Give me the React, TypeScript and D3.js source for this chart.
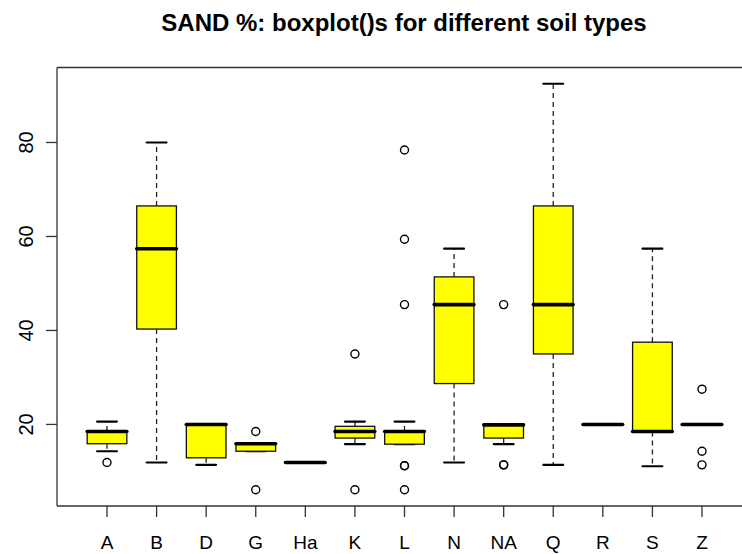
import React from "react";
import * as d3 from "d3";

const title = "SAND %: boxplot()s for different soil types";
const categories = ["A", "B", "D", "G", "Ha", "K", "L", "N", "NA", "Q", "R", "S", "Z"];
const whiskerLow = [14.3, 11.9, 11.4, 14.3, 11.9, 15.8, 15.8, 11.9, 15.8, 11.4, 20, 11.1, 20];
const q1 = [15.9, 40.3, 12.9, 14.3, 11.9, 17.1, 15.8, 28.7, 17.1, 35.0, 20, 18.5, 20];
const medians = [18.5, 57.4, 20, 15.9, 11.9, 18.5, 18.5, 45.5, 19.9, 45.5, 20, 18.5, 20];
const q3 = [18.6, 66.5, 20, 16.0, 11.9, 19.6, 18.6, 51.4, 20, 66.5, 20, 37.5, 20];
const whiskerHigh = [20.6, 80, 20, 16.0, 11.9, 20.6, 20.6, 57.4, 20, 92.5, 20, 57.4, 20];
const outliers: number[][] = [
  [11.9],
  [],
  [],
  [18.5, 6.1],
  [],
  [35.0, 6.1],
  [78.4, 59.4, 45.5, 11.2, 11.2, 6.1],
  [],
  [45.5, 11.4, 11.4],
  [],
  [],
  [],
  [27.5, 14.3, 11.4],
];
const yTicks = [20, 40, 60, 80];

const W = 742;
const H = 554;
const left = 57;
const right = 760;
const top = 67.5;
const bottom = 506;
const font = "'Liberation Sans', Arial, Helvetica, sans-serif";

export default function App() {
  const allVals = [...whiskerLow, ...whiskerHigh, ...outliers.flat()];
  const lo = d3.min(allVals) as number;
  const hi = d3.max(allVals) as number;
  const pad = (hi - lo) * 0.04;
  const y = d3.scaleLinear().domain([lo - pad, hi + pad]).range([bottom, top]);
  const x = d3.scalePoint<string>().domain(categories).range([107, 702]).padding(0);
  const step = x.step();
  const bw = step * 0.8;
  const sw = bw * 0.5;

  return (
    <svg
      width={W}
      height={H}
      style={{ position: "absolute", left: 0, top: 0, background: "#fff" }}
      fontFamily={font}
    >
      <rect x={0} y={0} width={W} height={H} fill="#fff" />
      <text x={404} y={31} textAnchor="middle" fontSize={24} fontWeight="bold" fill="#000">
        {title}
      </text>
      {categories.map((c, i) => {
        const cx = x(c) as number;
        return (
          <g key={c}>
            {q3[i] !== whiskerHigh[i] && (
              <line x1={cx} x2={cx} y1={y(q3[i])} y2={y(whiskerHigh[i])} stroke="#222" strokeWidth={1.3} strokeDasharray="5,4" />
            )}
            {q1[i] !== whiskerLow[i] && (
              <line x1={cx} x2={cx} y1={y(q1[i])} y2={y(whiskerLow[i])} stroke="#222" strokeWidth={1.3} strokeDasharray="5,4" />
            )}
            <line x1={cx - sw / 2} x2={cx + sw / 2} y1={y(whiskerHigh[i])} y2={y(whiskerHigh[i])} stroke="#000" strokeWidth={2.2} strokeLinecap="round" />
            <line x1={cx - sw / 2} x2={cx + sw / 2} y1={y(whiskerLow[i])} y2={y(whiskerLow[i])} stroke="#000" strokeWidth={2.2} strokeLinecap="round" />
            <rect
              x={cx - bw / 2}
              y={y(q3[i])}
              width={bw}
              height={Math.max(0, y(q1[i]) - y(q3[i]))}
              fill="#ffff00"
              stroke="#111"
              strokeWidth={1.3}
            />
            <line x1={cx - bw / 2} x2={cx + bw / 2} y1={y(medians[i])} y2={y(medians[i])} stroke="#000" strokeWidth={3.6} strokeLinecap="round" />
            {outliers[i].map((v, j) => (
              <circle key={j} cx={cx} cy={y(v)} r={4} fill="none" stroke="#000" strokeWidth={1.4} />
            ))}
          </g>
        );
      })}
      <line x1={left} x2={right} y1={top} y2={top} stroke="#333" strokeWidth={1.3} />
      <line x1={left} x2={right} y1={bottom} y2={bottom} stroke="#333" strokeWidth={1.3} />
      <line x1={left} x2={left} y1={top} y2={bottom} stroke="#333" strokeWidth={1.3} />
      {yTicks.map((t) => (
        <g key={t}>
          <line x1={left - 11} x2={left} y1={y(t)} y2={y(t)} stroke="#333" strokeWidth={1.3} />
          <text
            transform={`translate(${33},${y(t)}) rotate(-90)`}
            textAnchor="middle"
            fontSize={20}
            fill="#000"
          >
            {t}
          </text>
        </g>
      ))}
      {categories.map((c) => (
        <g key={c}>
          <line x1={x(c)} x2={x(c)} y1={bottom} y2={bottom + 11} stroke="#333" strokeWidth={1.3} />
          <text x={x(c)} y={549} textAnchor="middle" fontSize={19} fill="#000">
            {c}
          </text>
        </g>
      ))}
    </svg>
  );
}
